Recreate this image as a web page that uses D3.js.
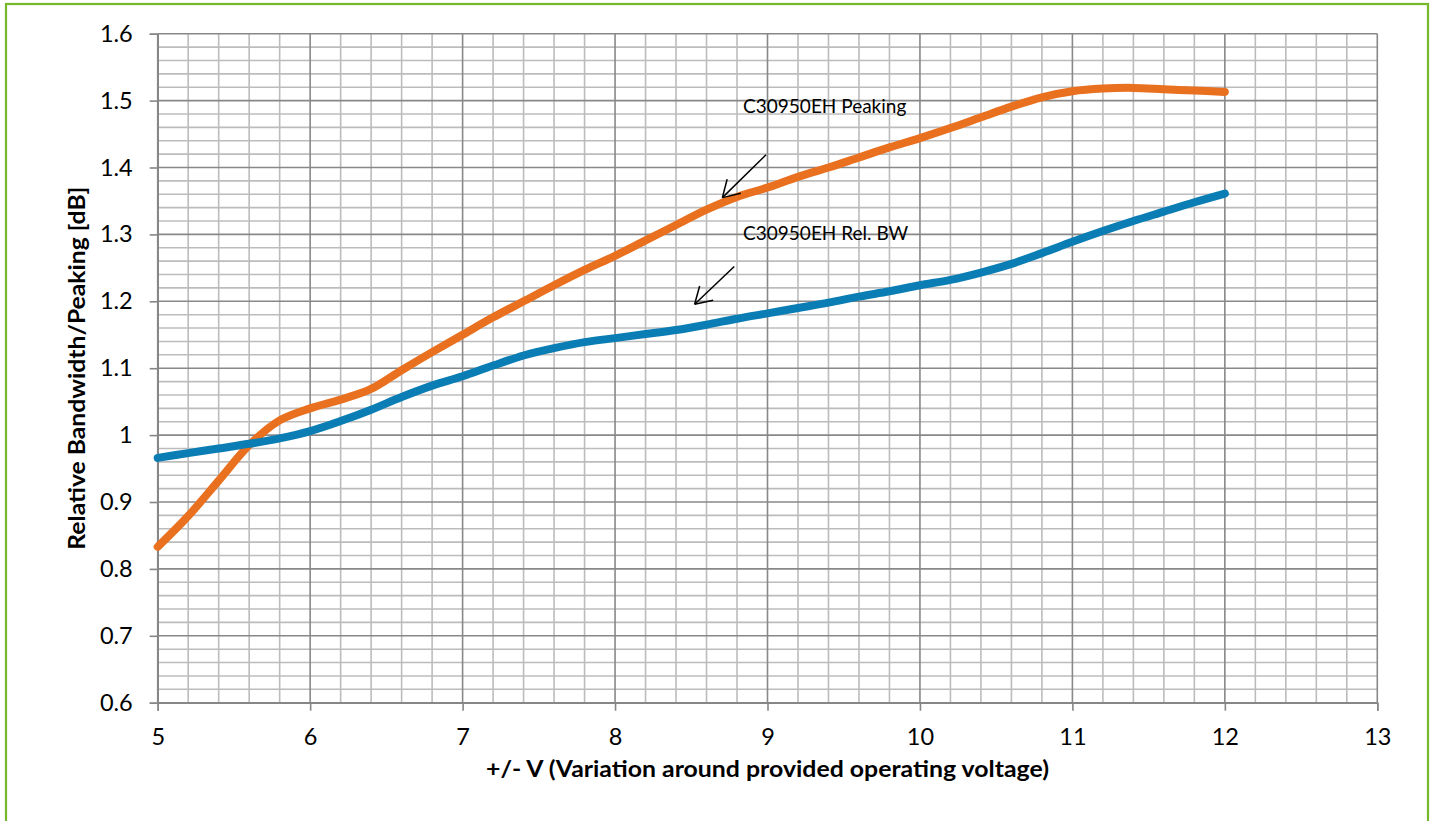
<!DOCTYPE html>
<html>
<head>
<meta charset="utf-8">
<script src="https://cdn.jsdelivr.net/npm/d3@7"></script>
<style>
  html, body { margin: 0; padding: 0; background: #fff; }
  svg { display: block; }
  text { font-family: Lato, "Open Sans", sans-serif; fill: #000; }
</style>
</head>
<body>
<svg id="chart" width="1433" height="821"></svg>
<script>
// ---- data ----
const voltage = [5, 5.2, 5.4, 5.6, 5.8, 6, 6.2, 6.4, 6.6, 6.8, 7, 7.2, 7.4, 7.6, 7.8, 8, 8.2, 8.4, 8.6, 8.8,
                 9, 9.2, 9.4, 9.6, 9.8, 10, 10.2, 10.4, 10.6, 10.8, 11, 11.2, 11.4, 11.6, 11.8, 12];
const peaking = [0.833, 0.879, 0.932, 0.985, 1.022, 1.040, 1.053, 1.069, 1.097, 1.124, 1.150, 1.176, 1.200, 1.224, 1.247, 1.268, 1.291, 1.314, 1.337, 1.356,
                 1.370, 1.386, 1.400, 1.415, 1.430, 1.444, 1.459, 1.475, 1.491, 1.505, 1.514, 1.518, 1.519, 1.517, 1.515, 1.513];
const relBW   = [0.966, 0.973, 0.980, 0.987, 0.995, 1.006, 1.021, 1.038, 1.057, 1.074, 1.088, 1.104, 1.119, 1.130, 1.139, 1.145, 1.151, 1.157, 1.165, 1.174,
                 1.182, 1.190, 1.198, 1.207, 1.215, 1.224, 1.232, 1.243, 1.256, 1.272, 1.289, 1.305, 1.320, 1.334, 1.348, 1.361];
const seriesNames = ["C30950EH Peaking", "C30950EH Rel. BW"];
const xTicks = [5, 6, 7, 8, 9, 10, 11, 12, 13];
const xTickLabels = ["5", "6", "7", "8", "9", "10", "11", "12", "13"];
const yTicks = [0.6, 0.7, 0.8, 0.9, 1.0, 1.1, 1.2, 1.3, 1.4, 1.5, 1.6];
const yTickLabels = ["0.6", "0.7", "0.8", "0.9", "1", "1.1", "1.2", "1.3", "1.4", "1.5", "1.6"];
const xTitle = "+/- V (Variation around provided operating voltage)";
const yTitle = "Relative Bandwidth/Peaking [dB]";
// annotation anchors in data units: label (x, y baseline), arrow from -> to
const annLabelX = [8.84, 8.84];
const annLabelY = [1.481, 1.292];
const annFromX = [8.99, 8.782];
const annFromY = [1.419, 1.252];
const annToX = [8.704, 8.522];
const annToY = [1.355, 1.1955];

// ---- layout ----
const svg = d3.select("#chart");
const pLeft = 157.7, pRight = 1377.3, pTop = 33.7, pBottom = 702.7;
const x = d3.scaleLinear().domain([5, 13]).range([pLeft, pRight]);
const y = d3.scaleLinear().domain([0.6, 1.6]).range([pBottom, pTop]);

// outer green frame
svg.append("rect")
  .attr("x", 6).attr("y", 4).attr("width", 1422).attr("height", 840)
  .attr("fill", "none").attr("stroke", "#76b82a").attr("stroke-width", 2.2);

// grid
const g = svg.append("g");
const minorX = d3.range(5, 13.0001, 0.2).filter(v => Math.abs(v - Math.round(v)) > 1e-6);
const minorY = d3.range(0.6, 1.6001, 0.02).filter(v => Math.abs(v * 10 - Math.round(v * 10)) > 1e-6);
g.selectAll(".mx").data(minorX).enter().append("line")
  .attr("x1", d => x(d)).attr("x2", d => x(d)).attr("y1", pTop).attr("y2", pBottom)
  .attr("stroke", "#bcbcbc").attr("stroke-width", 1.6);
g.selectAll(".my").data(minorY).enter().append("line")
  .attr("x1", pLeft).attr("x2", pRight).attr("y1", d => y(d)).attr("y2", d => y(d))
  .attr("stroke", "#bcbcbc").attr("stroke-width", 1.6);
g.selectAll(".Mx").data(xTicks).enter().append("line")
  .attr("x1", d => x(d)).attr("x2", d => x(d)).attr("y1", pTop).attr("y2", pBottom)
  .attr("stroke", "#888888").attr("stroke-width", 1.6);
g.selectAll(".My").data(yTicks).enter().append("line")
  .attr("x1", pLeft).attr("x2", pRight).attr("y1", d => y(d)).attr("y2", d => y(d))
  .attr("stroke", "#888888").attr("stroke-width", 1.6);

// axes
const xAxis = d3.axisBottom(x).tickValues(xTicks).tickSize(8).tickPadding(18)
  .tickFormat((d, i) => xTickLabels[i]);
const yAxis = d3.axisLeft(y).tickValues(yTicks).tickSize(8).tickPadding(17)
  .tickFormat((d, i) => yTickLabels[i]);
const gx = svg.append("g").attr("transform", `translate(0,${pBottom})`).call(xAxis);
const gy = svg.append("g").attr("transform", `translate(${pLeft},0)`).call(yAxis);
[gx, gy].forEach(a => {
  a.select(".domain").attr("stroke", "#868686").attr("stroke-width", 1.6);
  a.selectAll(".tick line").attr("stroke", "#868686").attr("stroke-width", 1.6);
  a.selectAll(".tick text").attr("font-family", "Lato, sans-serif").attr("font-size", 23.5).attr("fill", "#000");
});

// lines
const line = d3.line().x((d, i) => x(voltage[i])).y(d => y(d)).curve(d3.curveCatmullRom.alpha(0.5));
const series = [
  { name: seriesNames[0], values: peaking, color: "#e8701f" },
  { name: seriesNames[1], values: relBW, color: "#0a7db4" }
];
svg.selectAll(".series").data(series).enter().append("path")
  .attr("d", d => line(d.values))
  .attr("fill", "none").attr("stroke", d => d.color)
  .attr("stroke-width", 8).attr("stroke-linecap", "round").attr("stroke-linejoin", "round");

// annotations
seriesNames.forEach((name, i) => {
  svg.append("text").attr("x", x(annLabelX[i])).attr("y", y(annLabelY[i]))
    .attr("font-size", 19).text(name);
  const x1 = x(annFromX[i]), y1 = y(annFromY[i]), x2 = x(annToX[i]), y2 = y(annToY[i]);
  svg.append("line").attr("x1", x1).attr("y1", y1).attr("x2", x2).attr("y2", y2)
    .attr("stroke", "#000").attr("stroke-width", 1.5);
  const ang = Math.atan2(y1 - y2, x1 - x2);
  const len = 19, spread = 31 * Math.PI / 180;
  [ang - spread, ang + spread].forEach(a => {
    svg.append("line").attr("x1", x2).attr("y1", y2)
      .attr("x2", x2 + len * Math.cos(a)).attr("y2", y2 + len * Math.sin(a))
      .attr("stroke", "#000").attr("stroke-width", 1.5);
  });
});

// axis titles
svg.append("text").attr("x", (pLeft + pRight) / 2).attr("y", 768)
  .attr("text-anchor", "middle").attr("dominant-baseline", "central")
  .attr("font-weight", "bold").attr("font-size", 23.5)
  .attr("textLength", 563).attr("lengthAdjust", "spacingAndGlyphs").text(xTitle);
svg.append("text").attr("transform", `translate(76,${(pTop + pBottom) / 2}) rotate(-90)`)
  .attr("text-anchor", "middle").attr("dominant-baseline", "central")
  .attr("font-weight", "bold").attr("font-size", 23.5)
  .attr("textLength", 363).attr("lengthAdjust", "spacingAndGlyphs").text(yTitle);
</script>
</body>
</html>
